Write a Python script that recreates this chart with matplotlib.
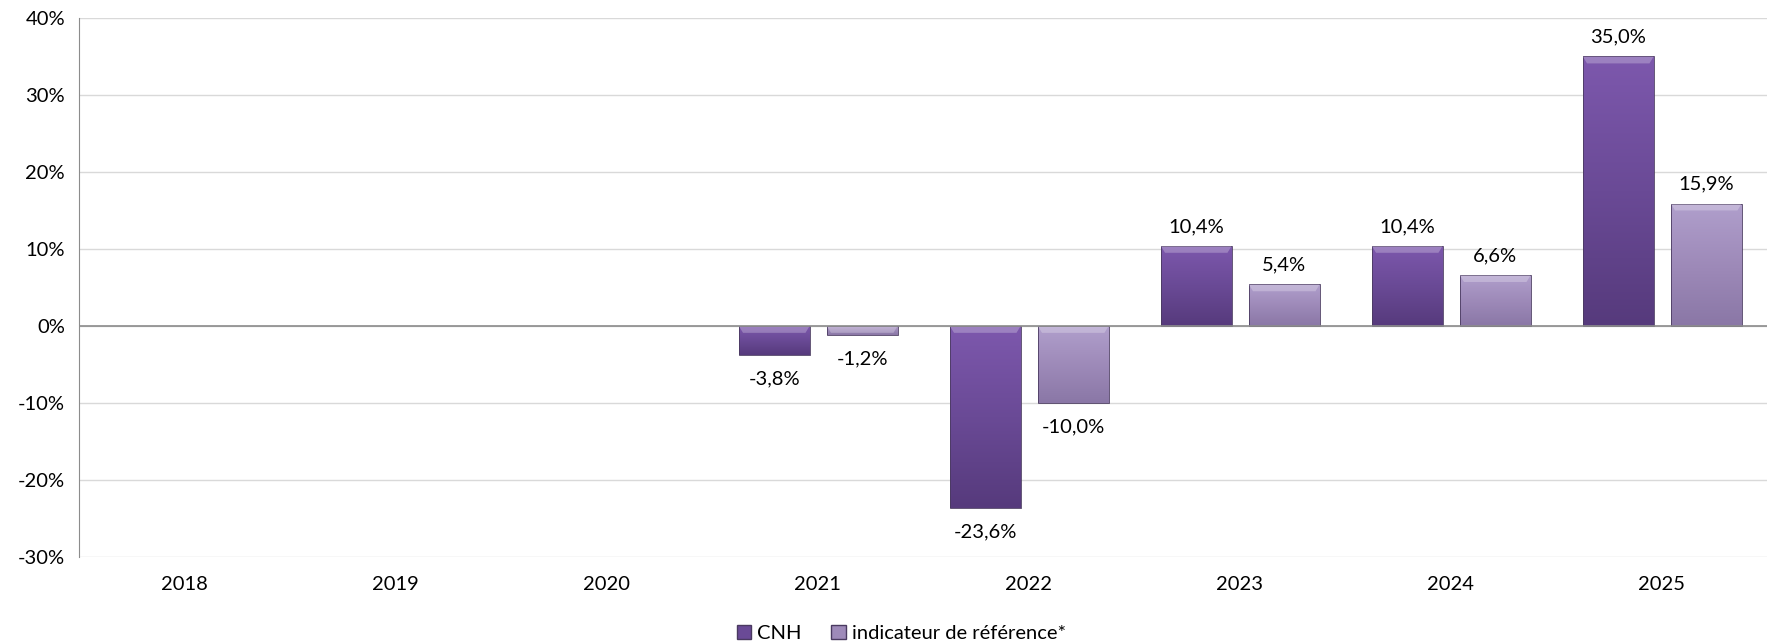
import numpy as np
import matplotlib.pyplot as plt
from matplotlib.colors import LinearSegmentedColormap
from matplotlib.patches import Patch

plt.rcParams['font.family'] = ['Lato', 'DejaVu Sans']

# Données
annees = ['2018', '2019', '2020', '2021', '2022', '2023', '2024', '2025']
cnh = [None, None, None, -3.8, -23.6, 10.4, 10.4, 35.0]
reference = [None, None, None, -1.2, -10.0, 5.4, 6.6, 15.9]
noms = ['CNH', 'indicateur de référence*']

# Dégradés (haut -> bas)
cmap_cnh = LinearSegmentedColormap.from_list('cnh', ['#7d58ad', '#6a4a96', '#563a7c'])
cmap_ref = LinearSegmentedColormap.from_list('ref', ['#b09fcc', '#9e8ab9', '#8a77a6'])

fig = plt.figure(figsize=(17.67, 6.43), dpi=100)
ax = fig.add_axes([0.0447, 0.134, 0.9553, 0.838])

x = np.arange(len(annees))
largeur = 0.336
decal = [-0.205, 0.212]
fs = 14.5


def barre_degrade(ax, xc, val, cmap):
    bars = ax.bar(xc, val, largeur, color='none', edgecolor='#4a3a60', linewidth=0.6, zorder=3)
    grad = np.linspace(0, 1, 256).reshape(-1, 1)
    y0, y1 = (val, 0) if val < 0 else (0, val)
    im = ax.imshow(grad, extent=[xc - largeur / 2, xc + largeur / 2, y0, y1],
                   origin='upper', aspect='auto', cmap=cmap, zorder=2)
    im.set_clip_path(bars[0])
    # biseau clair en haut
    h = 0.9
    top = y1
    ax.fill([xc - largeur / 2, xc + largeur / 2, xc + largeur / 2 - 0.02, xc - largeur / 2 + 0.02],
            [top, top, top - h, top - h], color='white', alpha=0.25, lw=0, zorder=3)
    return bars


for serie, cmap, d in [(cnh, cmap_cnh, decal[0]), (reference, cmap_ref, decal[1])]:
    for i, v in enumerate(serie):
        if v is None:
            continue
        barre_degrade(ax, x[i] + d, v, cmap)
        txt = f'{v:.1f}%'.replace('.', ',')
        if v >= 0:
            ax.text(x[i] + d, v + 1.4, txt, ha='center', va='bottom', fontsize=fs)
        else:
            ax.text(x[i] + d, v - 2.0, txt, ha='center', va='top', fontsize=fs)

ax.set_xlim(-0.5, len(annees) - 0.5)
ax.set_ylim(-30, 40)
ax.set_yticks(range(-30, 41, 10))
ax.set_yticklabels([f'{t}%' for t in range(-30, 41, 10)], fontsize=fs)
ax.set_xticks(x)
ax.set_xticklabels(annees, fontsize=fs)
ax.tick_params(length=0, pad=10)
ax.tick_params(axis='x', pad=14)
ax.grid(axis='y', color='#d9d9d9', linewidth=1, zorder=0)
ax.axhline(0, color='#8c8c8c', linewidth=1.2, zorder=4)
for s in ['top', 'right', 'bottom']:
    ax.spines[s].set_visible(False)
ax.spines['left'].set_color('#8c8c8c')

# Légende
handles = [Patch(facecolor='#6a4a96', edgecolor='#4a3a60'),
           Patch(facecolor='#9e8ab9', edgecolor='#4a3a60')]
fig.legend(handles, noms, loc='center', bbox_to_anchor=(0.51, 0.015), ncol=2, frameon=False,
           fontsize=fs, handlelength=0.7, handleheight=0.7, handletextpad=0.3, columnspacing=1.5)

fig.savefig('out.png', dpi=100)
